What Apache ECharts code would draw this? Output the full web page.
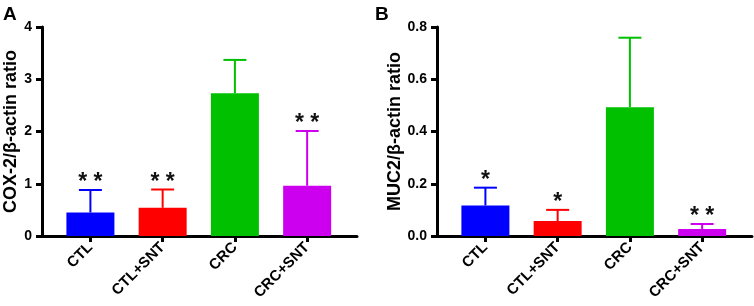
<!DOCTYPE html>
<html>
<head>
<meta charset="utf-8">
<script src="https://cdn.jsdelivr.net/npm/echarts@6/dist/echarts.min.js"></script>
<style>
  html, body { margin: 0; padding: 0; background: #fff; }
  #main { width: 754px; height: 306px; }
</style>
</head>
<body>
<div id="main"></div>
<script>
var categories = ["CTL", "CTL+SNT", "CRC", "CRC+SNT"];
var barColors = ["#0000ff", "#ff0000", "#00c000", "#cc00ee"];

// panel A: COX-2
var coxMean = [0.45, 0.54, 2.73, 0.96];
var coxErr = [0.43, 0.35, 0.64, 1.05];
var coxMarks = ["* *", "* *", "", "* *"];
var coxTicks = { min: 0, max: 4, interval: 1 };

// panel B: MUC2
var mucMean = [0.117, 0.057, 0.493, 0.027];
var mucErr = [0.068, 0.043, 0.266, 0.019];
var mucMarks = ["*", "*", "", "* *"];
var mucTicks = { min: 0, max: 0.8, interval: 0.2 };

var FONT = "'Liberation Sans', Arial, sans-serif";

function barData(means) {
  return means.map(function (v, i) {
    return { value: [i, v], itemStyle: { color: barColors[i] } };
  });
}

function errData(means, errs) {
  return means.map(function (v, i) {
    return [i, v, errs[i]];
  });
}

function errRenderer(marks) {
  return function (params, api) {
    var i = params.dataIndex;
    var x = api.value(0);
    var m = api.value(1);
    var e = api.value(2);
    var base = api.coord([x, m]);
    var top = api.coord([x, m + e]);
    var col = barColors[i];
    var children = [
      { type: "line", shape: { x1: base[0], y1: base[1], x2: top[0], y2: top[1] },
        style: { stroke: col, lineWidth: 2 } },
      { type: "line", shape: { x1: top[0] - 11.5, y1: top[1], x2: top[0] + 11.5, y2: top[1] },
        style: { stroke: col, lineWidth: 2 } }
    ];
    if (marks[i]) {
      children.push({
        type: "text",
        style: {
          text: marks[i], x: top[0], y: top[1] - 7,
          fill: "#111", fontSize: 23, fontWeight: "bold", fontFamily: FONT,
          align: "center", verticalAlign: "middle"
        }
      });
    }
    return { type: "group", children: children };
  };
}

function xAxisFor(gridIndex) {
  return {
    type: "value",
    gridIndex: gridIndex,
    min: -0.67,
    max: 3.69,
    splitLine: { show: false },
    axisLine: { show: true, onZero: false, lineStyle: { color: "#000", width: 3 } },
    axisTick: { show: true, customValues: [0, 1, 2, 3], length: 6, lineStyle: { color: "#000", width: 3 } },
    axisLabel: {
      customValues: [0, 1, 2, 3],
      formatter: function (v) { return categories[Math.round(v)]; },
      rotate: 45, margin: 9,
      color: "#000", fontSize: 15, fontWeight: "bold", fontFamily: FONT
    }
  };
}

function yAxisFor(gridIndex, ticks, name, digits) {
  return {
    type: "value",
    gridIndex: gridIndex,
    min: ticks.min,
    max: ticks.max,
    interval: ticks.interval,
    name: name,
    nameLocation: "middle",
    nameRotate: 90,
    nameGap: 22,
    nameTextStyle: { color: "#000", fontSize: 18, fontWeight: "bold", fontFamily: FONT },
    splitLine: { show: false },
    axisLine: { show: true, onZero: false, lineStyle: { color: "#000", width: 3 } },
    axisTick: { show: true, length: 6, lineStyle: { color: "#000", width: 3 } },
    axisLabel: {
      margin: 10,
      color: "#000", fontSize: 14, fontWeight: "bold", fontFamily: FONT,
      formatter: function (v) { return v.toFixed(digits); }
    }
  };
}

var option = {
  backgroundColor: "#fff",
  animation: false,
  title: [
    { text: "A", left: 3, top: 5, padding: 0, textStyle: { fontSize: 19, fontWeight: "bold", fontFamily: FONT, color: "#000" } },
    { text: "B", left: 375, top: 5, padding: 0, textStyle: { fontSize: 19, fontWeight: "bold", fontFamily: FONT, color: "#000" } }
  ],
  grid: [
    { left: 42, top: 27, width: 315, height: 209 },
    { left: 437, top: 27, width: 315, height: 209 }
  ],
  xAxis: [xAxisFor(0), xAxisFor(1)],
  yAxis: [
    yAxisFor(0, coxTicks, "COX-2/β-actin ratio", 0),
    yAxisFor(1, mucTicks, "MUC2/β-actin ratio", 1)
  ],
  series: [
    { type: "bar", xAxisIndex: 0, yAxisIndex: 0, barWidth: 48, data: barData(coxMean) },
    { type: "custom", xAxisIndex: 0, yAxisIndex: 0, clip: false, z: 3,
      renderItem: errRenderer(coxMarks), encode: { x: 0, y: 1 }, data: errData(coxMean, coxErr) },
    { type: "bar", xAxisIndex: 1, yAxisIndex: 1, barWidth: 48, data: barData(mucMean) },
    { type: "custom", xAxisIndex: 1, yAxisIndex: 1, clip: false, z: 3,
      renderItem: errRenderer(mucMarks), encode: { x: 0, y: 1 }, data: errData(mucMean, mucErr) }
  ]
};

var myChart = echarts.init(document.getElementById("main"));
myChart.setOption(option);
</script>
</body>
</html>
